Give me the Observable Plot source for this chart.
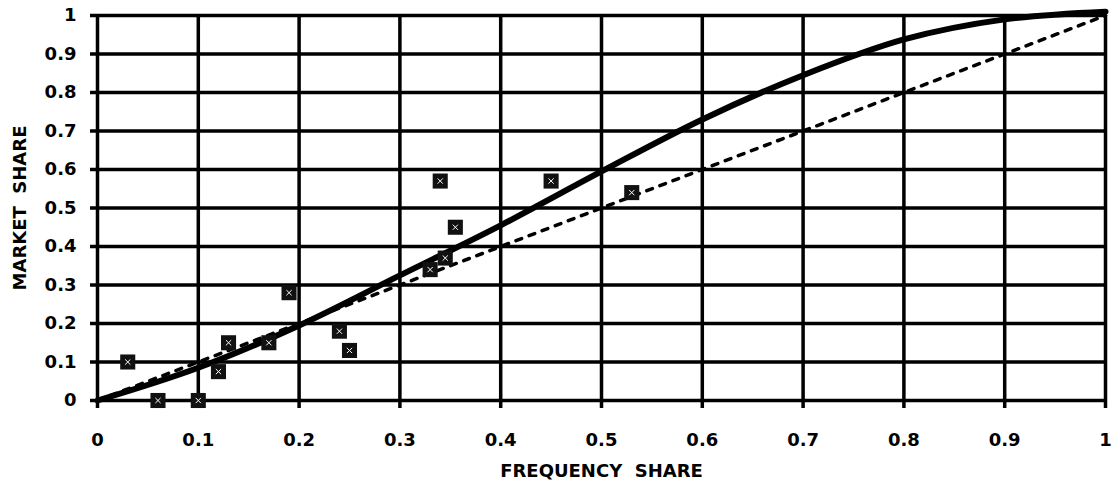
<!DOCTYPE html>
<html>
<head>
<meta charset="utf-8">
<script src="https://cdn.jsdelivr.net/npm/d3@7"></script>
<script src="https://cdn.jsdelivr.net/npm/@observablehq/plot@0.6"></script>
<style>
  html, body { margin: 0; padding: 0; background: #fff; }
  #chart svg { display: block; }
</style>
</head>
<body>
<div id="chart"></div>
<script>
// Tick values
const xTicks = [0, 0.1, 0.2, 0.3, 0.4, 0.5, 0.6, 0.7, 0.8, 0.9, 1];
const yTicks = [0, 0.1, 0.2, 0.3, 0.4, 0.5, 0.6, 0.7, 0.8, 0.9, 1];

// Observed points (frequency share, market share)
const pointFreq   = [0.03, 0.06, 0.10, 0.12, 0.13, 0.17, 0.19, 0.24, 0.25, 0.33, 0.345, 0.34, 0.355, 0.45, 0.53];
const pointMarket = [0.10, 0.00, 0.00, 0.075, 0.15, 0.15, 0.28, 0.18, 0.13, 0.34, 0.37, 0.57, 0.45, 0.57, 0.54];

// S-curve (solid)
const curveFreq   = [0, 0.1, 0.2, 0.3, 0.4, 0.5, 0.6, 0.7, 0.8, 0.9, 1];
const curveMarket = [0, 0.085, 0.195, 0.325, 0.455, 0.595, 0.73, 0.845, 0.938, 0.99, 1.01];

// Diagonal (dotted) reference line
const diagFreq   = [0, 1];
const diagMarket = [0, 1];

const points = pointFreq.map((f, i) => ({f, m: pointMarket[i]}));
const curve = curveFreq.map((f, i) => ({f, m: curveMarket[i]}));
const diag = diagFreq.map((f, i) => ({f, m: diagMarket[i]}));

const fmt = d => String(+d.toFixed(1));

const chart = Plot.plot({
  width: 1112,
  height: 485,
  marginLeft: 97,
  marginRight: 7,
  marginTop: 15,
  marginBottom: 85,
  style: {fontFamily: "'DejaVu Sans', sans-serif", fontWeight: "bold", fontSize: "18px", color: "#000", background: "#fff"},
  x: {domain: [0, 1]},
  y: {domain: [0, 1]},
  marks: [
    Plot.gridX(xTicks, {stroke: "#000", strokeOpacity: 1, strokeWidth: 3.5}),
    Plot.gridY(yTicks, {stroke: "#000", strokeOpacity: 1, strokeWidth: 3.5}),
    Plot.axisX({ticks: xTicks, tickFormat: fmt, tickSize: 8, tickPadding: 25, strokeWidth: 3.5,
      label: "FREQUENCY  SHARE", labelAnchor: "center", labelOffset: 76, labelArrow: "none", fontSize: 18}),
    Plot.axisY({ticks: yTicks, tickFormat: fmt, tickSize: 7, tickPadding: 14, strokeWidth: 3.5,
      label: "MARKET  SHARE", labelAnchor: "center", labelOffset: 84, labelArrow: "none", fontSize: 18}),
    Plot.line(diag, {x: "f", y: "m", stroke: "#000", strokeWidth: 3.5, strokeDasharray: "6,8", strokeLinecap: "round"}),
    Plot.line(curve, {x: "f", y: "m", stroke: "#000", strokeWidth: 6, curve: "catmull-rom"}),
    Plot.dot(points, {x: "f", y: "m", symbol: "square", r: 8.5, fill: "#111", stroke: "none"}),
    Plot.dot(points, {x: "f", y: "m", symbol: "times", r: 2.5, stroke: "#fff", strokeWidth: 1})
  ]
});
document.getElementById("chart").appendChild(chart);
</script>
</body>
</html>
